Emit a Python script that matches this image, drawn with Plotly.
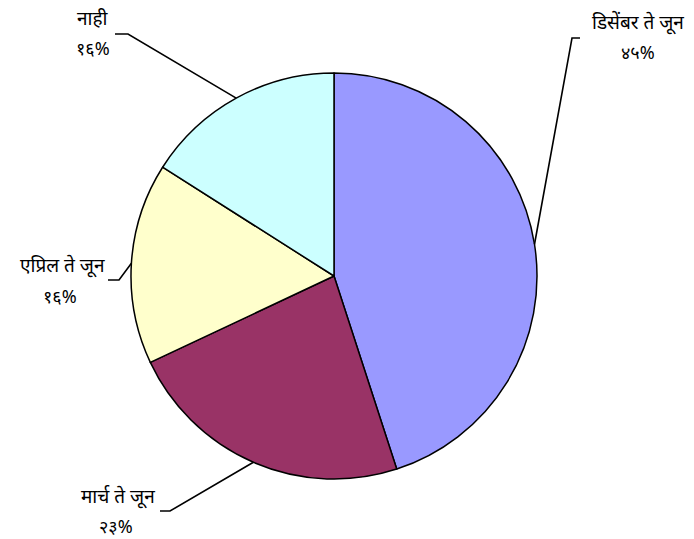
import math
import plotly.graph_objects as go

# Survey answers (Marathi) and their shares in percent
labels = ["डिसेंबर ते जून", "मार्च ते जून", "एप्रिल ते जून", "नाही"]
values = [45, 23, 16, 16]
value_text = ["४५%", "२३%", "१६%", "१६%"]
colors = ["#9999FF", "#993366", "#FFFFCC", "#CCFFFF"]

W, H = 694, 539
CX, CY, R = 334, 276, 203  # pie centre and radius in pixels

fig = go.Figure(go.Pie(
    labels=labels,
    values=values,
    sort=False,
    direction="clockwise",
    rotation=0,
    marker=dict(colors=colors, line=dict(color="black", width=1.5)),
    textinfo="none",
    hoverinfo="label+percent",
    showlegend=False,
    domain=dict(x=[(CX - R) / W, (CX + R) / W],
                y=[(H - CY - R) / H, (H - CY + R) / H]),
))

# Elbow of each leader line, end of its short horizontal stub, and label anchor (pixels)
elbows = [(572, 38), (170, 511), (119, 280), (128, 34)]
stubs = [(580, 38), (160, 511), (108, 280), (115, 34)]
label_pos = [(638, 22), (118, 496), (62, 265), (93, 18)]
value_pos = [(638, 52), (116, 526), (60, 296), (93, 48)]

def px(x):
    return x / W

def py(y):
    return 1 - y / H

shapes = []
annotations = []
total = sum(values)
cum = 0
for i, v in enumerate(values):
    mid = (cum + v / 2) / total * 2 * math.pi
    cum += v
    ex = CX + R * math.sin(mid)
    ey = CY - R * math.cos(mid)
    bx, by = elbows[i]
    sx, sy = stubs[i]
    path = f"M {px(ex)} {py(ey)} L {px(bx)} {py(by)} L {px(sx)} {py(sy)}"
    shapes.append(dict(type="path", xref="paper", yref="paper", path=path,
                       line=dict(color="black", width=1.6)))
    annotations.append(dict(x=px(label_pos[i][0]), y=py(label_pos[i][1]),
                            xref="paper", yref="paper", text=labels[i],
                            showarrow=False, xanchor="center", yanchor="middle",
                            font=dict(size=19, color="black")))
    annotations.append(dict(x=px(value_pos[i][0]), y=py(value_pos[i][1]),
                            xref="paper", yref="paper", text=value_text[i],
                            showarrow=False, xanchor="center", yanchor="middle",
                            font=dict(size=18, color="black")))

fig.update_layout(
    width=W, height=H,
    margin=dict(l=0, r=0, t=0, b=0),
    paper_bgcolor="white",
    plot_bgcolor="white",
    shapes=shapes,
    annotations=annotations,
    font=dict(family="Noto Sans, DejaVu Sans, sans-serif"),
)

fig.write_html("out.html")
